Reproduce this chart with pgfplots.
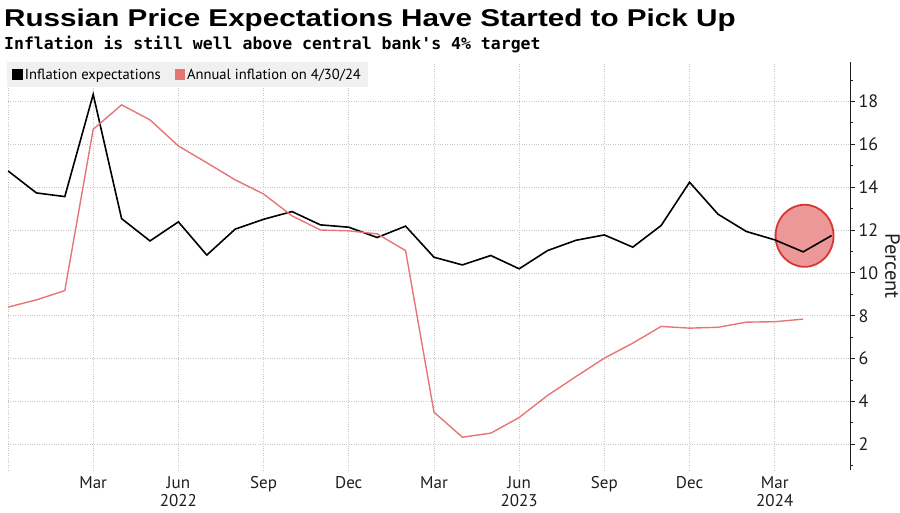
\documentclass[border=0pt]{standalone}
\usepackage{pgfplots}
\pgfplotsset{compat=1.18}
\usepackage{fontspec}
\setmainfont{PT Sans}
\newfontfamily\titlefont{Liberation Sans}
\newfontfamily\subfont{DejaVu Sans Mono}
\definecolor{redline}{RGB}{230,118,118}
\definecolor{legred}{RGB}{232,104,106}
\definecolor{circfill}{RGB}{236,152,152}
\definecolor{circdraw}{RGB}{215,55,50}
\definecolor{gridc}{RGB}{200,200,200}
\definecolor{leggray}{RGB}{240,240,240}
\definecolor{txt}{RGB}{30,30,30}
\begin{document}
\begin{tikzpicture}
\begin{axis}[
  at={(0pt,0pt)}, anchor=south west,
  scale only axis, width=842pt, height=408pt,
  xmin=-1, xmax=28.65, ymin=0.8, ymax=19.84,
  clip marker paths=true,
  axis y line=right, axis x line=bottom,
  x axis line style={draw=none,-},
  y axis line style={-, line width=0.8pt, txt},
  xtick={-1,2,5,8,11,14,17,20,23,26},
  xticklabels={,Mar,Jun\\2022,Sep,Dec,Mar,Jun\\2023,Sep,Dec,Mar\\2024},
  x tick style={draw=none},
  xticklabel style={align=center, font=\fontsize{17}{18.5}\selectfont, text=txt, anchor=north, inner sep=1pt, yshift=0pt},
  ytick={2,4,...,18},
  minor ytick={1,3,...,19},
  tick align=outside,
  major tick length=5pt, minor tick length=3pt,
  y tick style={line width=0.8pt, txt},
  yticklabel style={font=\fontsize{18}{18}\selectfont, text=txt},
  /pgf/number format/assume math mode=true,
  grid=major,
  major grid style={gridc, dotted, line width=0.7pt},
  ylabel={Percent},
  ylabel style={rotate=180, font=\fontsize{20.5}{20.5}\selectfont, text=txt},
  legend columns=2,
  legend style={at={(0,1)}, anchor=north west, yshift=0pt, xshift=-1pt, fill=leggray, draw=none,
     font=\fontsize{14.6}{14.6}\selectfont, inner xsep=5pt, inner ysep=4.5pt,
     /tikz/every even column/.append style={column sep=12pt}},
  legend image code/.code={\fill[#1] (0pt,-4.5pt) rectangle (9pt,4.5pt);},
]
\addplot[only marks, mark=*, mark size=29pt, mark options={draw=circdraw, fill=circfill, line width=1.8pt, yscale=1.07}, forget plot] coordinates {(27.05,11.73)};
\addplot[black, line width=1.6pt] coordinates {
(-1,14.76)(0,13.73)(1,13.56)(2,18.33)(3,12.53)(4,11.49)(5,12.38)(6,10.83)(7,12.04)(8,12.5)(9,12.86)(10,12.24)(11,12.13)(12,11.65)(13,12.18)(14,10.73)(15,10.37)(16,10.81)(17,10.19)(18,11.04)(19,11.52)(20,11.77)(21,11.2)(22,12.21)(23,14.23)(24,12.74)(25,11.93)(26,11.54)(27,10.98)(28,11.74)};
\addlegendentry{Inflation expectations}
\addplot[redline, line width=1.4pt] coordinates {
(-1,8.4)(0,8.74)(1,9.17)(2,16.7)(3,17.84)(4,17.14)(5,15.92)(6,15.14)(7,14.34)(8,13.68)(9,12.66)(10,12.0)(11,11.96)(12,11.82)(13,11.04)(14,3.5)(15,2.33)(16,2.52)(17,3.25)(18,4.28)(19,5.16)(20,6.02)(21,6.72)(22,7.5)(23,7.42)(24,7.46)(25,7.7)(26,7.72)(27,7.84)};
\addlegendentry{Annual inflation on 4/30/24}
\end{axis}
\node[anchor=base west, inner sep=0, font=\titlefont\bfseries\fontsize{24.3}{28}\selectfont] at (-4pt,443pt) {\scalebox{1.22}[1]{Russian Price Expectations Have Started to Pick Up}};
\node[anchor=base west, inner sep=0, font=\subfont\bfseries\fontsize{16.5}{20}\selectfont] at (-4pt,420pt) {Inflation is still well above central bank's 4\% target};
\pgfresetboundingbox
\useasboundingbox (-8pt,-42pt) rectangle (892pt,470pt);
\end{tikzpicture}
\end{document}
